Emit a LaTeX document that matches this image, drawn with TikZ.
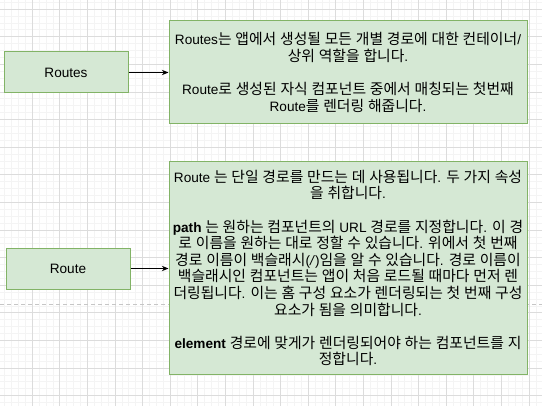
\documentclass[tikz,border=0pt]{standalone}
\usepackage{fontspec}
\setmainfont{Liberation Sans}
\newfontfamily\krfont[Scale=1.09]{Noto Sans CJK KR}
\usetikzlibrary{arrows.meta}

% Hangul syllables in the Korean font, the rest in Liberation Sans
\XeTeXinterchartokenstate=1
\newXeTeXintercharclass\krclass
\newcount\hgcnt
\hgcnt="AC00
\loop\ifnum\hgcnt<"D7A4 \XeTeXcharclass\hgcnt=\krclass \advance\hgcnt by 1 \repeat
\XeTeXinterchartoks 0 \krclass = {\krfont}
\XeTeXinterchartoks 4095 \krclass = {\krfont}
\XeTeXinterchartoks \krclass 0 = {\rmfamily}
\XeTeXinterchartoks \krclass 4095 = {\rmfamily}

\definecolor{boxfill}{HTML}{D5E8D4}
\definecolor{boxline}{HTML}{82B366}
\definecolor{gridmajor}{HTML}{DCDCDC}
\definecolor{gridminor}{HTML}{F4F4F4}

\begin{document}
\begin{tikzpicture}[
    x=0.75pt, y=-0.75pt,
    comp/.style={rectangle, draw=boxline, fill=boxfill, line width=0.75pt,
        minimum width=93pt, minimum height=30.75pt, inner sep=0pt,
        font=\fontsize{10.2}{12.45}\selectfont},
    note/.style={rectangle, draw=boxline, fill=boxfill, line width=0.75pt,
        minimum width=268.5pt, inner sep=0pt, align=center,
        font=\fontsize{10.2}{12.45}\selectfont},
    arrow/.style={-{Stealth[length=5pt,width=4pt]}, line width=0.75pt}]

\useasboundingbox (0,0) rectangle (542,406);
\fill[white] (0,0) rectangle (542,406);

% Grid
\foreach \x in {4.7,11.6,...,542} \draw[gridminor, line width=0.75pt] (\x,0) -- (\x,406);
\foreach \y in {2.4,9.3,...,406} \draw[gridminor, line width=0.75pt] (0,\y) -- (542,\y);
\foreach \x in {32.3,59.9,...,542} \draw[gridmajor, line width=0.75pt] (\x,0) -- (\x,406);
\foreach \y in {9.3,36.9,...,406} \draw[gridmajor, line width=0.75pt] (0,\y) -- (542,\y);

% Page break
\draw[gray!45, line width=0.75pt, dash pattern=on 3pt off 2.25pt] (0,304) -- (542,304);

% Components
\node[comp] (routes) at (66,72.5) {Routes};
\node[comp] (route) at (68,268.5) {Route};

% Descriptions
\node[note, minimum height=77.25pt] (routesnote) at (348,72.5) {%
Routes는 앱에서 생성될 모든 개별 경로에 대한 컨테이너/\\
상위 역할을 합니다.\\[12.45pt]
Route로 생성된 자식 컴포넌트 중에서 매칭되는 첫번째\\
Route를 렌더링 해줍니다.};

\node[note, minimum height=159pt] (routenote) at (348,268) {%
Route 는 단일 경로를 만드는 데 사용됩니다. 두 가지 속성\\
을 취합니다.\\[12.45pt]
\textbf{path} 는 원하는 컴포넌트의 URL 경로를 지정합니다. 이 경\\
로 이름을 원하는 대로 정할 수 있습니다. 위에서 첫 번째\\
경로 이름이 백슬래시(\textit{/})임을 알 수 있습니다. 경로 이름이\\
백슬래시인 컴포넌트는 앱이 처음 로드될 때마다 먼저 렌\\
더링됩니다. 이는 홈 구성 요소가 렌더링되는 첫 번째 구성\\
요소가 됨을 의미합니다.\\[12.45pt]
\textbf{element} 경로에 맞게가 렌더링되어야 하는 컴포넌트를 지\\
정합니다.};

% Arrows
\draw[arrow] (routes.east) -- (routes.east -| routesnote.west);
\draw[arrow] (route.east) -- (route.east -| routenote.west);

\end{tikzpicture}
\end{document}
